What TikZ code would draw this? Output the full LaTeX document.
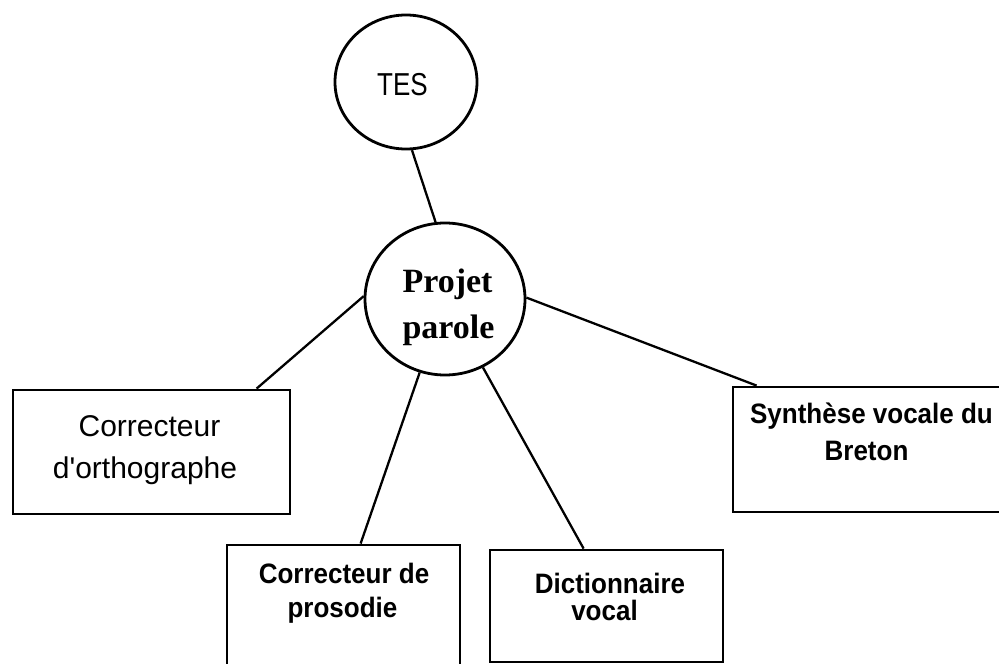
\documentclass[tikz,border=0pt]{standalone}
\usepackage{fontspec}
\setmainfont{Liberation Sans}
\newfontfamily\serifbold{Liberation Serif}
\usetikzlibrary{shapes.geometric,calc}
\begin{document}
\begin{tikzpicture}[x=1pt,y=-1pt,
  bubble/.style={draw=black,line width=2.8pt,ellipse,inner sep=0pt},
  box/.style={draw=black,line width=2.8pt,rectangle,inner sep=0pt},
  link/.style={draw=black,line width=2.3pt},
  lbl/.style={anchor=base,inner sep=0pt,yscale=1.08,font=\fontsize{26}{30}\selectfont\bfseries},
  lblr/.style={anchor=base,inner sep=0pt,font=\fontsize{30}{34}\selectfont},
  lblt/.style={anchor=base,inner sep=0pt,yscale=1.22,font=\fontsize{26}{30}\selectfont},
  lblp/.style={anchor=base,inner sep=0pt,font=\fontsize{34}{40}\serifbold\bfseries}]
\clip (0,0) rectangle (999,664);
\fill[white] (0,0) rectangle (999,664);
% shapes
\node[bubble,minimum width=142pt,minimum height=134pt] (tes) at (406,82) {};
\node[bubble,minimum width=160pt,minimum height=152pt] (pp) at (445,299) {};
\node[box,minimum width=277pt,minimum height=124pt] (ortho) at (151.5,452) {};
\node[box,minimum width=233pt,minimum height=135pt] (proso) at (343.5,612.5) {};
\node[box,minimum width=233pt,minimum height=112pt] (dict) at (606.5,606) {};
\node[box,minimum width=280pt,minimum height=125pt] (synth) at (873,449.5) {};
% texts
\node[lblt] (t1) at (402.5,95) {TES};
\node[lblp] (p1) at (447.5,292) {Projet};
\node[lblp] (p2) at (448.5,338) {parole};
\node[lblr] (o1) at (149.5,436) {Correcteur};
\node[lblr] (o2) at (145,478) {d\textquotesingle orthographe};
\node[lbl] (c1) at (344,583) {Correcteur de};
\node[lbl] (c2) at (342.5,617) {prosodie};
\node[lbl] (d1) at (610,593) {Dictionnaire};
\node[lbl] (d2) at (604.5,620) {vocal};
\node[lbl] (s1) at (871.5,423) {Synthèse vocale du};
\node[lbl] (s2) at (866.5,460) {Breton};
% connectors
\draw[link] (tes.275) -- (pp.97);
\draw[link] (pp.178) -- ($(ortho.north west)+(245,0)$);
\draw[link] (pp.251) -- ($(proso.north west)+(135,0)$);
\draw[link] (pp.299) -- ($(dict.north west)+(95,0)$);
\draw[link] (pp.1) -- ($(synth.north west)+(25,0)$);
\end{tikzpicture}
\end{document}
